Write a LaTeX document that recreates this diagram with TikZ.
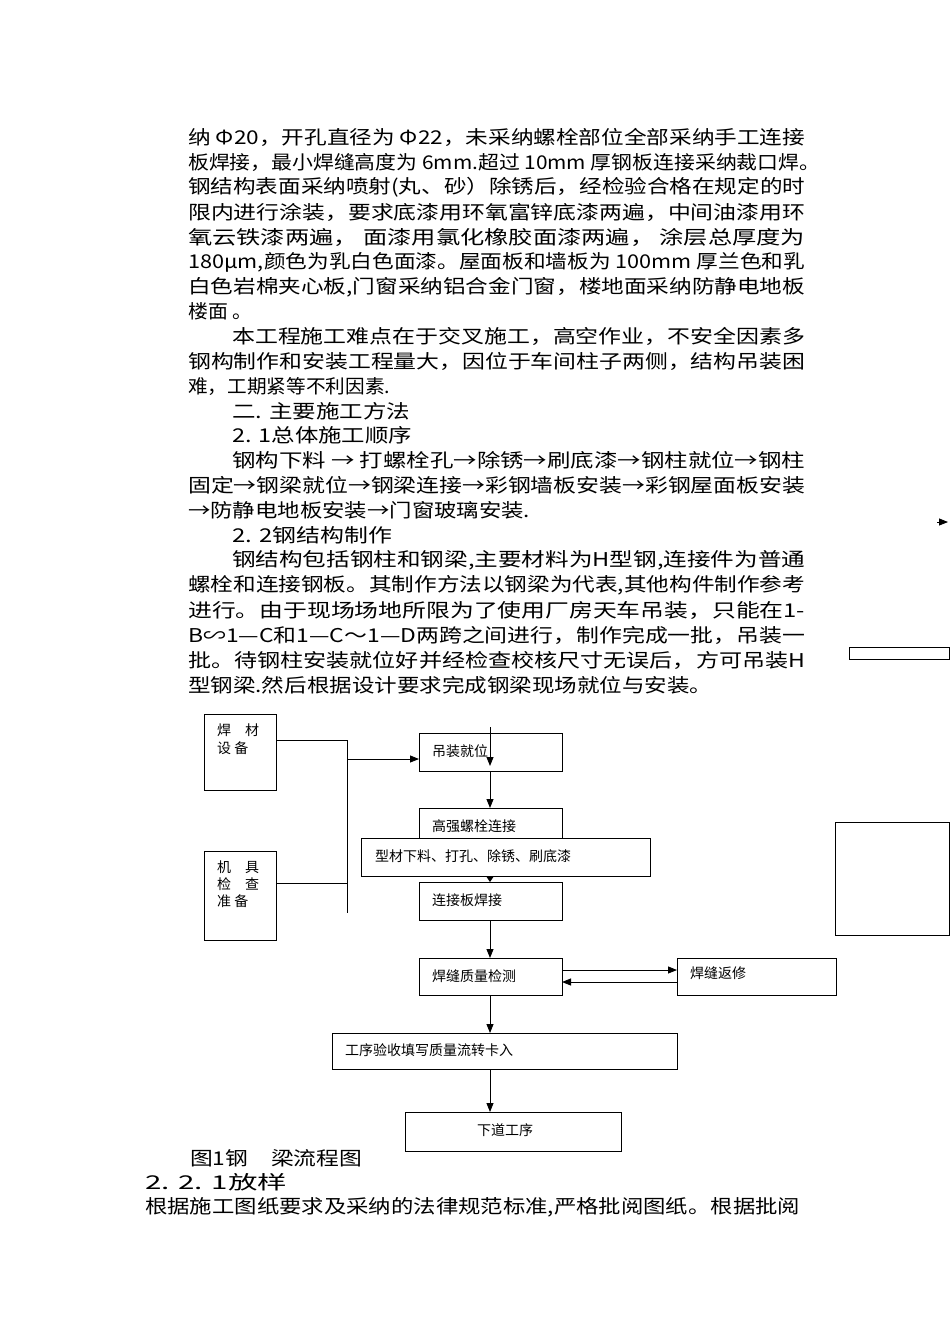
\documentclass[tikz,border=0pt]{standalone}
\usepackage{fontspec}
\usepackage{graphicx}
\setmainfont{Noto Sans CJK SC}
\usetikzlibrary{arrows.meta}
\newcommand{\tl}[5]{\node[anchor=west,inner sep=0pt] (#1) at (#2,#4) {\resizebox{\dimexpr #3pt-#2pt\relax}{\height}{\fontsize{19pt}{22pt}\selectfont #5}};}
\begin{document}
\begin{tikzpicture}[x=1pt,y=-1pt,
  box/.style={draw,line width=0.9pt,fill=white},
  ft/.style={inner sep=0pt,anchor=west,font=\fontsize{14pt}{17pt}\selectfont},
  ar/.style={-{Triangle[length=9pt,width=7pt]},line width=0.9pt},
  ln/.style={line width=0.9pt}]
\useasboundingbox (0,0) rectangle (950,1344);
\fill[white] (0,0) rectangle (950,1344);
\tl{l1}{188}{805}{137}{纳 Φ20，开孔直径为 Φ22，未采纳螺栓部位全部采纳手工连接}
\tl{l2}{188}{820}{162}{板焊接，最小焊缝高度为 6mm.超过 10mm 厚钢板连接采纳裁口焊。}
\tl{l3}{188}{805}{187}{钢结构表面采纳喷射(丸、砂）除锈后，经检验合格在规定的时}
\tl{l4}{188}{805}{212}{限内进行涂装，要求底漆用环氧富锌底漆两遍，中间油漆用环}
\tl{l5}{188}{805}{237}{氧云铁漆两遍， 面漆用氯化橡胶面漆两遍， 涂层总厚度为}
\tl{l6}{188}{805}{262}{180μm,颜色为乳白色面漆。屋面板和墙板为 100mm 厚兰色和乳}
\tl{l7}{188}{805}{287}{白色岩棉夹心板,门窗采纳铝合金门窗，楼地面采纳防静电地板}
\tl{l8}{188}{252}{311}{楼面 。}
\tl{l9}{232}{805}{336}{本工程施工难点在于交叉施工，高空作业，不安全因素多}
\tl{l10}{188}{805}{361}{钢构制作和安装工程量大，因位于车间柱子两侧，结构吊装困}
\tl{l11}{188}{390}{386}{难，工期紧等不利因素.}
\tl{l12}{232}{410}{411}{二. 主要施工方法}
\tl{l13}{232}{412}{435}{2. 1总体施工顺序}
\tl{l14}{232}{805}{460}{钢构下料 → 打螺栓孔→除锈→刷底漆→钢柱就位→钢柱}
\tl{l15}{188}{805}{485}{固定→钢梁就位→钢梁连接→彩钢墙板安装→彩钢屋面板安装}
\tl{l16}{188}{530}{510}{→防静电地板安装→门窗玻璃安装.}
\tl{l17}{232}{392}{535}{2. 2钢结构制作}
\tl{l18}{232}{805}{560}{钢结构包括钢柱和钢梁,主要材料为H型钢,连接件为普通}
\tl{l19}{188}{805}{585}{螺栓和连接钢板。其制作方法以钢梁为代表,其他构件制作参考}
\tl{l20}{188}{805}{610}{进行。由于现场场地所限为了使用厂房天车吊装，只能在1-}
\tl{l21}{188}{805}{635}{B∽1—C和1—C～1—D两跨之间进行，制作完成一批，吊装一}
\tl{l22}{188}{805}{660}{批。待钢柱安装就位好并经检查校核尺寸无误后，方可吊装H}
\tl{l23}{188}{712}{685}{型钢梁.然后根据设计要求完成钢梁现场就位与安装。}
\tl{cap}{190}{362}{1158}{图1钢\quad 梁流程图}
\tl{l24}{145}{287}{1182}{2. 2. 1放样}
\tl{l25}{145}{800}{1207}{根据施工图纸要求及采纳的法律规范标准,严格批阅图纸。根据批阅}
% flowchart
\draw[box] (204,714) rectangle (276,790);
\node[ft] (hc) at (217,730) {焊\quad 材};
\node[ft] (sb) at (217,748) {设 备};
\draw[box] (204,851) rectangle (276,940);
\node[ft] (jj) at (217,867) {机\quad 具};
\node[ft] (jc) at (217,884) {检\quad 查};
\node[ft] (zb) at (217,901) {准 备};
\coordinate (v1) at (347,740);
\coordinate (v2) at (347,913);
\draw[ln] (276,740) -- (v1) -- (v2);
\draw[ln] (276,883) -- (347,883);
\draw[box] (419,733) rectangle (562,771);
\node[ft] (dz) at (432,751) {吊装就位};
\draw[ar] (347,759) -- (419,759);
\draw[box] (419,808) rectangle (562,845);
\node[ft] (gq) at (432,826) {高强螺栓连接};
\draw[box] (361,838) rectangle (650,876);
\node[ft] (xc) at (375,856) {型材下料、打孔、除锈、刷底漆};
\draw[box] (419,882) rectangle (562,920);
\node[ft] (lj) at (432,900) {连接板焊接};
\draw[ar] (490,727) -- (490,766);
\draw[ar] (490,771) -- (490,808);
\fill (486,876) -- (494,876) -- (490,882) -- cycle;
\draw[ar] (490,920) -- (490,958);
\draw[box] (419,958) rectangle (562,995);
\node[ft] (jc2) at (432,976) {焊缝质量检测};
\draw[box] (677,958) rectangle (836,995);
\node[ft] (fx) at (690,973) {焊缝返修};
\draw[ar] (562,970) -- (677,970);
\draw[ar] (677,982) -- (562,982);
\draw[ar] (490,995) -- (490,1033);
\draw[box] (332,1033) rectangle (677,1069);
\node[ft] (gx) at (345,1050) {工序验收填写质量流转卡入};
\draw[ar] (490,1069) -- (490,1112);
\draw[box] (405,1112) rectangle (621,1151);
\node[ft,anchor=center] (xd) at (505,1130) {下道工序};
% edge fragments
\draw[ar] (937,522) -- (948,522);
\draw[box] (849,647) rectangle (949.5,659);
\draw[box] (835,822) rectangle (949.5,935);
\end{tikzpicture}
\end{document}
